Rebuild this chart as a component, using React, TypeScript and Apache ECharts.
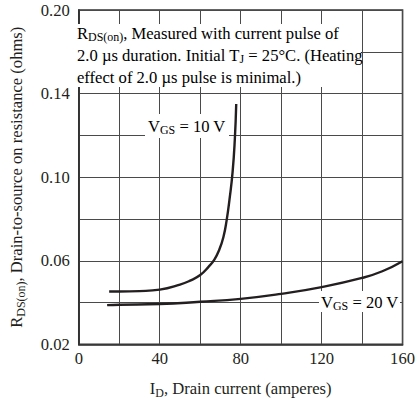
import React, { useEffect, useRef } from "react";
import * as echarts from "echarts";

// Drain current (A) vs RDS(on) (ohms)
const vgs10: [number, number][] = [
  [15, 0.0453], [20, 0.0453], [30, 0.0455], [40, 0.0462], [50, 0.0486],
  [55, 0.0505], [60, 0.0532], [64, 0.057], [67, 0.0606], [69.5, 0.0655],
  [71.5, 0.0715], [73, 0.079], [74.5, 0.0895], [76, 0.1024], [77.1, 0.118], [77.8, 0.135],
];
const vgs20: [number, number][] = [
  [14, 0.0388], [20, 0.039], [40, 0.0393], [60, 0.0404], [80, 0.0418],
  [100, 0.0442], [120, 0.0474], [140, 0.0518], [150, 0.055], [160, 0.0598],
];
const xLabelValues = [0, 40, 80, 120, 160];
const yTickLabels = ["0.02", "", "0.06", "", "0.10", "", "0.14", "", "0.20"];

const FONT = "'Liberation Serif', 'Times New Roman', serif";
const INK = "#231f20";
const FS = 16.6;

const rich = (size: number) => ({
  n: { fontSize: size, fontFamily: FONT, color: INK, lineHeight: size + 4, verticalAlign: "middle" },
  s: { fontSize: size * 0.72, fontFamily: FONT, color: INK, lineHeight: size * 0.72, verticalAlign: "bottom" },
});

export default function App() {
  const ref = useRef<HTMLDivElement>(null);
  useEffect(() => {
    document.body.style.margin = "0";
    const chart = echarts.init(ref.current!, null, { renderer: "svg" });
    chart.setOption({
      animation: false,
      backgroundColor: "#fff",
      grid: { left: 72, top: 10, right: 14, bottom: 57, show: true, borderColor: "#333", borderWidth: 1.6 },
      xAxis: {
        type: "value",
        min: 0,
        max: 160,
        interval: 20,
        axisLine: { show: true, lineStyle: { color: "#333", width: 1.6 } },
        axisTick: { show: false },
        splitLine: { show: true, lineStyle: { color: "#4a4a4a", width: 1 } },
        axisLabel: {
          margin: 6,
          fontSize: FS,
          fontFamily: FONT,
          color: INK,
          formatter: (v: number) => (xLabelValues.includes(v) ? String(v) : ""),
        },
        name: "{n|I}{s|D}{n|, Drain current (amperes)}",
        nameLocation: "middle",
        nameGap: 34,
        nameTextStyle: { rich: rich(FS) },
      },
      yAxis: {
        type: "value",
        min: 0.02,
        max: 0.18,
        interval: 0.02,
        axisLine: { show: true, lineStyle: { color: "#333", width: 1.6 } },
        axisTick: { show: false },
        splitLine: { show: true, lineStyle: { color: "#4a4a4a", width: 1 } },
        axisLabel: {
          margin: 9,
          fontSize: FS,
          fontFamily: FONT,
          color: INK,
          formatter: (v: number) => yTickLabels[Math.round((v - 0.02) / 0.02)] ?? "",
        },
        name: "{n|R}{s|DS(on)}{n|, Drain-to-source on resistance (ohms)}",
        nameLocation: "middle",
        nameGap: 52,
        nameTextStyle: { rich: rich(FS) },
      },
      series: [
        {
          type: "line",
          data: vgs10,
          smooth: 0.5,
          showSymbol: false,
          lineStyle: { color: INK, width: 2.4 },
          z: 5,
        },
        {
          type: "line",
          data: vgs20,
          smooth: 0.5,
          showSymbol: false,
          lineStyle: { color: INK, width: 2.4 },
          z: 5,
        },
      ],
      graphic: [
        { type: "rect", z: 100, shape: { x: 76, y: 24, width: 285, height: 63 }, style: { fill: "#fff" } },
        {
          type: "text", z: 101, x: 77, y: 33,
          style: { text: "{n|R}{s|DS(on)}{n|, Measured with current pulse of}", rich: rich(FS), verticalAlign: "middle" },
        },
        {
          type: "text", z: 101, x: 77, y: 55,
          style: { text: "{n|2.0 µs duration. Initial T}{s|J}{n| = 25°C. (Heating}", rich: rich(FS), verticalAlign: "middle" },
        },
        {
          type: "text", z: 101, x: 77, y: 77,
          style: { text: "{n|effect of 2.0 µs pulse is minimal.)}", rich: rich(FS), verticalAlign: "middle" },
        },
        { type: "rect", z: 100, shape: { x: 145, y: 114, width: 84, height: 24 }, style: { fill: "#fff" } },
        {
          type: "text", z: 101, x: 148, y: 126,
          style: { text: "{n|V}{s|GS}{n| = 10 V}", rich: rich(FS), verticalAlign: "middle" },
        },
        { type: "rect", z: 100, shape: { x: 319, y: 291, width: 81, height: 21 }, style: { fill: "#fff" } },
        {
          type: "text", z: 101, x: 321, y: 302,
          style: { text: "{n|V}{s|GS}{n| = 20 V}", rich: rich(FS), verticalAlign: "middle" },
        },
      ],
    });
    return () => chart.dispose();
  }, []);
  return <div ref={ref} style={{ width: 418, height: 404 }} />;
}
